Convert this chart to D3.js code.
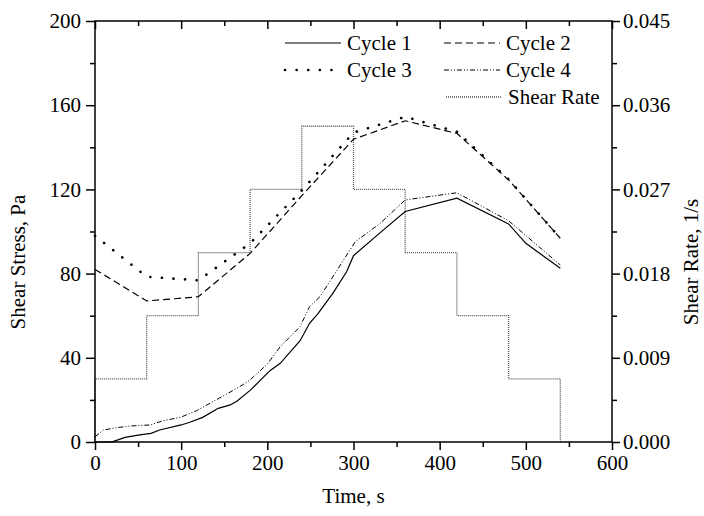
<!DOCTYPE html>
<html>
<head>
<meta charset="utf-8">
<script src="https://cdn.jsdelivr.net/npm/d3@7"></script>
<style>
  body { margin: 0; background: #fff; }
  svg text { font-family: "Liberation Serif", "DejaVu Serif", serif; fill: #000; }
</style>
</head>
<body>
<div id="chart"></div>
<script>
// time (s) and shear stress (Pa) for each cycle
const cycle1_t = [0, 20, 35, 50, 65, 75, 100, 110, 125, 143, 157, 165, 180, 203, 215, 238, 249, 259, 276, 292, 300, 330, 360, 420, 480, 500, 540]
const cycle1_v = [0, 0.1, 2.2, 3.3, 4.1, 5.7, 8.1, 9.4, 11.7, 16, 17.6, 19.5, 24.5, 33.9, 37.4, 48.1, 56.4, 61.1, 70.6, 80.9, 88.5, 99.1, 109.5, 115.8, 103.6, 94.4, 82.5]

const cycle2_t = [0, 60, 120, 180, 240, 300, 360, 420, 480, 540]
const cycle2_v = [82, 67, 69, 89.6, 117, 143.8, 152.6, 146.6, 124.5, 96.8]

const cycle3_t = [0, 60, 120, 180, 240, 300, 360, 420, 480, 540]
const cycle3_v = [98, 78.5, 76.8, 94.4, 119.5, 147, 154.5, 147.4, 124.8, 96.8]

const cycle4_t = [0, 10, 25, 41, 64, 79, 99, 118, 130, 149, 168, 180, 200, 215, 238, 249, 261, 276, 302, 331, 360, 420, 480, 540]
const cycle4_v = [2.5, 5.7, 6.8, 7.6, 8.1, 10.1, 11.7, 14.9, 17.6, 21.9, 26.3, 29.5, 37, 45.3, 54.8, 64.3, 69, 78.5, 95.1, 103.9, 115, 118.4, 105.1, 84.1]

// shear rate (1/s), step profile
const rate_t = [0, 0, 60, 120, 180, 240, 300, 360, 420, 480, 540]
const rate_v = [0, 0.00675, 0.0135, 0.02025, 0.027, 0.03375, 0.027, 0.02025, 0.0135, 0.00675, 0]

const x_ticks = [0, 100, 200, 300, 400, 500, 600]
const y_ticks = [0, 40, 80, 120, 160, 200]
const r_ticks = [0, 0.009, 0.018, 0.027, 0.036, 0.045]

const width = 704
const height = 516
const margin = { left: 95, right: 92, top: 21, bottom: 74 }
const fontSize = 21

const svg = d3.select('#chart').append('svg')
    .attr('width', width)
    .attr('height', height)

const x = d3.scaleLinear().domain([0, 600]).range([margin.left, width - margin.right])
const y = d3.scaleLinear().domain([0, 200]).range([height - margin.bottom, margin.top])
const yr = d3.scaleLinear().domain([0, 0.045]).range([height - margin.bottom, margin.top])

const zip = (ts, vs) => ts.map((t, i) => [t, vs[i]])

const series = [
    { name: 'Cycle 1', data: zip(cycle1_t, cycle1_v), dash: null, width: 1.2, cap: 'butt' },
    { name: 'Cycle 2', data: zip(cycle2_t, cycle2_v), dash: '7,4', width: 1.2, cap: 'butt' },
    { name: 'Cycle 3', data: zip(cycle3_t, cycle3_v), dash: '0.1,11.5', width: 2.6, cap: 'round' },
    { name: 'Cycle 4', data: zip(cycle4_t, cycle4_v), dash: '5,2,1,2,1,2', width: 1, cap: 'butt' }
]

const line = d3.line().x(d => x(d[0])).y(d => y(d[1]))
const rateLine = d3.line().x(d => x(d[0])).y(d => yr(d[1])).curve(d3.curveStepAfter)

const plot = svg.append('g')

plot.append('path')
    .attr('d', rateLine(zip(rate_t, rate_v)))
    .attr('fill', 'none')
    .attr('stroke', '#555')
    .attr('stroke-width', 1.3)
    .attr('stroke-dasharray', '1,1')

series.forEach(s => {
    plot.append('path')
        .attr('d', line(s.data))
        .attr('fill', 'none')
        .attr('stroke', '#000')
        .attr('stroke-width', s.width)
        .attr('stroke-linecap', s.cap)
        .attr('stroke-dasharray', s.dash)
})

// axes
const axisG = svg.append('g')
const plotBottom = height - margin.bottom
const plotTop = margin.top
const plotLeft = margin.left
const plotRight = width - margin.right

function styleAxis(g) {
    g.select('.domain').remove()
    g.selectAll('line').attr('stroke', '#000').attr('stroke-width', 1.5)
    g.selectAll('text').attr('font-size', fontSize)
}

const xMinor = d3.range(50, 600, 100)
axisG.append('g').attr('transform', `translate(0,${ plotBottom })`)
    .call(d3.axisBottom(x).tickValues(x_ticks).tickSize(8).tickPadding(5).tickFormat(d3.format('d')))
    .call(styleAxis)
axisG.append('g').attr('transform', `translate(0,${ plotBottom })`)
    .call(d3.axisBottom(x).tickValues(xMinor).tickSize(5).tickFormat(''))
    .call(styleAxis)
axisG.append('g').attr('transform', `translate(0,${ plotTop })`)
    .call(d3.axisBottom(x).tickValues(x_ticks).tickSize(8).tickFormat(''))
    .call(styleAxis)
axisG.append('g').attr('transform', `translate(0,${ plotTop })`)
    .call(d3.axisBottom(x).tickValues(xMinor).tickSize(5).tickFormat(''))
    .call(styleAxis)

const yMinor = d3.range(20, 200, 40)
axisG.append('g').attr('transform', `translate(${ plotLeft },0)`)
    .call(d3.axisLeft(y).tickValues(y_ticks).tickSize(9).tickPadding(5).tickFormat(d3.format('d')))
    .call(styleAxis)
axisG.append('g').attr('transform', `translate(${ plotLeft },0)`)
    .call(d3.axisLeft(y).tickValues(yMinor).tickSize(5).tickFormat(''))
    .call(styleAxis)

const rMinor = r_ticks.slice(0, -1).map(d => d + 0.0045)
axisG.append('g').attr('transform', `translate(${ plotRight },0)`)
    .call(d3.axisRight(yr).tickValues(r_ticks).tickSize(8).tickPadding(3).tickFormat(d3.format('.3f')))
    .call(styleAxis)
axisG.append('g').attr('transform', `translate(${ plotRight },0)`)
    .call(d3.axisRight(yr).tickValues(rMinor).tickSize(5).tickFormat(''))
    .call(styleAxis)

axisG.append('rect')
    .attr('x', plotLeft).attr('y', plotTop)
    .attr('width', plotRight - plotLeft).attr('height', plotBottom - plotTop)
    .attr('fill', 'none')
    .attr('stroke', '#000')
    .attr('stroke-width', 1.5)

// axis titles
svg.append('text')
    .attr('x', (plotLeft + plotRight) / 2)
    .attr('y', 503)
    .attr('text-anchor', 'middle')
    .attr('font-size', fontSize)
    .text('Time, s')

svg.append('text')
    .attr('transform', `translate(25,${ 262 }) rotate(-90)`)
    .attr('text-anchor', 'middle')
    .attr('font-size', fontSize)
    .text('Shear Stress, Pa')

svg.append('text')
    .attr('transform', `translate(698,${ 262 }) rotate(-90)`)
    .attr('text-anchor', 'middle')
    .attr('font-size', fontSize)
    .text('Shear Rate, 1/s')

// legend
const legendItems = [
    { name: 'Cycle 1', s: series[0], lx: 285, ly: 43 },
    { name: 'Cycle 2', s: series[1], lx: 444, ly: 43 },
    { name: 'Cycle 3', s: series[2], lx: 285, ly: 70 },
    { name: 'Cycle 4', s: series[3], lx: 444, ly: 70 },
    { name: 'Shear Rate', s: { dash: '1,1', width: 1.3, cap: 'butt', color: '#555' }, lx: 446, ly: 97 }
]
const legend = svg.append('g')
legendItems.forEach(d => {
    legend.append('line')
        .attr('x1', d.lx).attr('x2', d.lx + 56)
        .attr('y1', d.ly).attr('y2', d.ly)
        .attr('stroke', d.s.color || '#000')
        .attr('stroke-width', d.s.width)
        .attr('stroke-linecap', d.s.cap)
        .attr('stroke-dasharray', d.s.dash)
    legend.append('text')
        .attr('x', d.lx + 62)
        .attr('y', d.ly + 7)
        .attr('font-size', fontSize)
        .text(d.name)
})
</script>
</body>
</html>
